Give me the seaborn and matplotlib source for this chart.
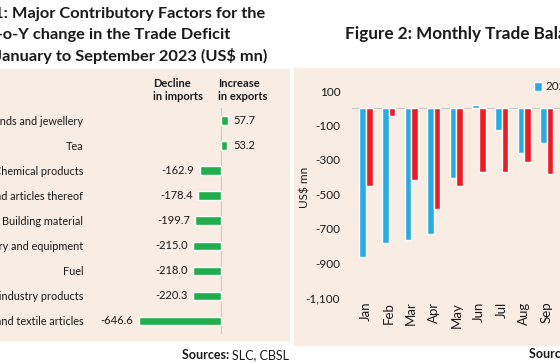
import matplotlib
matplotlib.use("Agg")
import matplotlib.pyplot as plt
import seaborn as sns
import pandas as pd
from matplotlib.patches import Rectangle

# Figure 1: contributions to the Y-o-Y change in the trade deficit (US$ mn)
factors = ["Diamonds and jewellery", "Tea", "Chemical products",
           "Rubber and articles thereof", "Building material",
           "Machinery and equipment", "Fuel", "Printing industry products",
           "Textiles and textile articles"]
contribution = [57.7, 53.2, -162.9, -178.4, -199.7, -215.0, -218.0, -220.3, -646.6]

# Figure 2: monthly trade balance (US$ mn)
months = ["Jan", "Feb", "Mar", "Apr", "May", "Jun", "Jul", "Aug", "Sep"]
balance_2022 = [-863, -785, -766, -733, -408, 19, -127, -262, -204]
balance_2023 = [-450, -44, -417, -586, -452, -369, -373, -311, -383]
years = ["2022", "2023"]
y_ticks = list(range(-1100, 101, 200))

green = "#1FAE4B"
blue = "#29ABE2"
red = "#ED1C24"
beige = "#F8ECE3"

W, H = 560, 363


def fx(x):
    return x / W


def fy(y):
    return 1 - y / H


def axes_px(fig, x0, y0, x1, y1):
    return fig.add_axes([fx(x0), fy(y1), (x1 - x0) / W, (y1 - y0) / H])


sns.set_style("white")
plt.rcParams["font.family"] = ["Lato", "DejaVu Sans"]

fig = plt.figure(figsize=(W / 100, H / 100), dpi=100)

# beige panels (behind the axes)
fig.patches.append(Rectangle((fx(0), fy(340)), fx(289), (340 - 69) / H,
                             transform=fig.transFigure, color=beige, zorder=-10))
fig.patches.append(Rectangle((fx(294), fy(345)), fx(560 - 294), (345 - 68) / H,
                             transform=fig.transFigure, color=beige, zorder=-10))

# ---------- Figure 1 ----------
title1 = ["Figure 1: Major Contributory Factors for the",
          "Y-o-Y change in the Trade Deficit",
          "January to September 2023 (US$ mn)"]
for txt, xe, yc in zip(title1, [265, 230, 267], [14, 35, 56]):
    fig.text(fx(xe), fy(yc), txt, ha="right", va="center",
             fontsize=11.8, fontweight="bold", color="#1a1a1a")

ax1 = axes_px(fig, 95, 108, 285, 333.5)
ax1.set_facecolor("none")
df1 = pd.DataFrame({"factor": factors, "value": contribution})
sns.barplot(data=df1, x="value", y="factor", orient="h", color=green,
            width=0.34, saturation=1, ax=ax1)
ax1.set_xlim(-990, 506)
ax1.set_ylim(8.5, -0.5)
ax1.axvline(0, color="#C8C8C8", lw=0.8, zorder=0)
ax1.bar_label(ax1.containers[0], labels=[f"{v:.1f}" for v in contribution],
              padding=4, fontsize=8, color="#1a1a1a")
ax1.set_xticks([])
ax1.set_xlabel("")
ax1.set_ylabel("")
ax1.tick_params(axis="y", length=0, pad=8.5, labelsize=7.8, labelcolor="#1a1a1a")
for s in ax1.spines.values():
    s.set_visible(False)

fig.text(fx(153), fy(90), "Decline\nin imports", ha="left", va="center",
         fontsize=8, fontweight="bold", color="#1a1a1a", linespacing=1.2)
fig.text(fx(218), fy(90), "Increase\nin exports", ha="left", va="center",
         fontsize=8, fontweight="bold", color="#1a1a1a", linespacing=1.2)

src = fig.text(fx(289), fy(355), "SLC, CBSL", ha="right", va="center",
               fontsize=9, color="#1a1a1a")
ax1.annotate("Sources: ", xy=(0, 0.5), xycoords=src, ha="right", va="center",
             fontsize=9, fontweight="bold", color="#1a1a1a")

# ---------- Figure 2 ----------
fig.text(fx(345), fy(33), "Figure 2: Monthly Trade Balance (US$ mn)",
         ha="left", va="center", fontsize=12.3, fontweight="bold", color="#1a1a1a")

ax2 = axes_px(fig, 352, 91, 626, 297.5)
ax2.set_facecolor("none")
df2 = pd.DataFrame({
    "month": months * 2,
    "value": balance_2022 + balance_2023,
    "year": [years[0]] * len(months) + [years[1]] * len(months),
})
sns.barplot(data=df2, x="month", y="value", hue="year", order=months,
            hue_order=years, palette=[blue, red], width=0.58,
            saturation=1, ax=ax2)
ax2.set_xlim(-0.62, 11.5)
ax2.set_ylim(-1100, 100)
ax2.axhline(0, color="#C8C8C8", lw=0.8, zorder=0)
ax2.set_yticks(y_ticks)
ax2.set_yticklabels([f"{v:,}" for v in y_ticks])
ax2.tick_params(axis="y", length=0, pad=8.5, labelsize=8.5, labelcolor="#1a1a1a")
ax2.tick_params(axis="x", length=0, pad=3, labelsize=9.5, labelcolor="#1a1a1a",
                rotation=90)
ax2.set_xlabel("")
ax2.set_ylabel("US$ mn", fontsize=8.5, color="#1a1a1a")
ax2.yaxis.set_label_coords((311 - 352) / (626 - 352), 0.535)
for s in ax2.spines.values():
    s.set_visible(False)

sns.move_legend(ax2, "center left", bbox_to_anchor=(fx(534), fy(87)),
                bbox_transform=fig.transFigure, ncol=2, frameon=False,
                title=None, fontsize=8.5, handlelength=0.7, handleheight=0.7,
                handletextpad=0.3, borderpad=0, borderaxespad=0, columnspacing=1)

fig.text(fx(529), fy(354), "Sources: ", ha="left", va="center",
         fontsize=9, fontweight="bold", color="#1a1a1a")

fig.savefig("out.png", dpi=100)
